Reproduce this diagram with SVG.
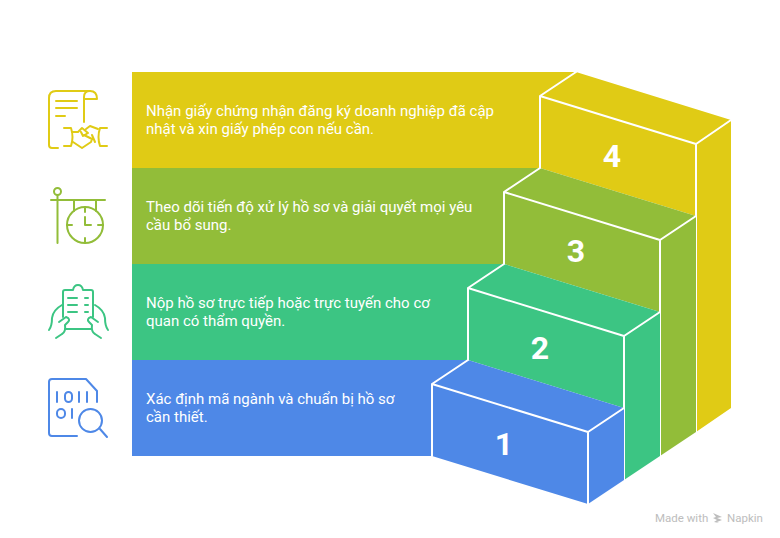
<svg xmlns="http://www.w3.org/2000/svg" width="780" height="538" viewBox="0 0 780 538">
<style>
.t{font-family:Roboto,"Noto Sans",sans-serif;font-size:15px;font-weight:400;fill:#fff}
.n{font-family:Roboto,"Noto Sans",sans-serif;font-size:32px;font-weight:700;fill:#fff;text-anchor:middle}
.e{stroke:#fff;stroke-width:2;stroke-linejoin:round;fill:none;stroke-linecap:round}
.i{fill:none;stroke-width:2;stroke-linecap:round;stroke-linejoin:round}
.y{fill:#E0CB15}.g{fill:#92BD39}.c{fill:#3CC583}.b{fill:#4E88E7}
.w{font-family:Roboto,"Noto Sans",sans-serif;font-size:11.5px;fill:#bdbdbd}
</style>
<rect width="780" height="538" fill="#fff"/>
<g id="step-4">
<path class="y" d="M132 72H576L731 120V408L696 432V216L540 168H132Z"/>
<path class="e" d="M576 72L540 96L696 144L731 120M540 96V168M696 144V432"/>
<text class="n" x="612" y="167">4</text>
<text class="t" x="146" y="116">Nhận giấy chứng nhận đăng ký doanh nghiệp đã cập</text>
<text class="t" x="146" y="134">nhật và xin giấy phép con nếu cần.</text>
</g>
<g id="step-3">
<path class="g" d="M132 168H540L696 216V432L660 456V312L504 264H132Z"/>
<path class="e" d="M540 168L504 192L660 240L696 216M504 192V264M660 240V456"/>
<text class="n" x="576" y="262">3</text>
<text class="t" x="146" y="212">Theo dõi tiến độ xử lý hồ sơ và giải quyết mọi yêu</text>
<text class="t" x="146" y="230">cầu bổ sung.</text>
</g>
<g id="step-2">
<path class="c" d="M132 264H504L660 312V456L624 480V408L468 360H132Z"/>
<path class="e" d="M504 264L468 288L624 336L660 312M468 288V360M624 336V480"/>
<text class="n" x="540" y="359">2</text>
<text class="t" x="146" y="308">Nộp hồ sơ trực tiếp hoặc trực tuyến cho cơ</text>
<text class="t" x="146" y="326">quan có thẩm quyền.</text>
</g>
<g id="step-1">
<path class="b" d="M132 360H468L624 408V480L588 504L432 456H132Z"/>
<path class="e" d="M468 360L432 384L588 432L624 408M432 384V456M588 432V504"/>
<text class="n" x="504" y="455">1</text>
<text class="t" x="146" y="404">Xác định mã ngành và chuẩn bị hồ sơ</text>
<text class="t" x="146" y="422">cần thiết.</text>
</g>
<g id="icon-4" class="i" stroke="#E0CB15">
<path d="M58 148H52Q49 148 49 145V98Q49 91 56 91H90"/>
<path d="M84 122V97Q84 91 90 91Q97 91 97 99H84"/>
<path d="M56 101H77M56 108H77M56 116H65"/>
<path d="M64 128H71Q74 137 71 146H64M107 128H100Q97 137 100 146H107"/>
<path d="M72 132H78L82 128L88 133L83 136L81 132M86 129L90 126L98 129M84 135L92 139L91 142L82 148L73 142M92 135L95 142"/>
</g>
<g id="icon-3" class="i" stroke="#92BD39">
<circle cx="57.5" cy="191.5" r="3.5"/>
<path d="M57.5 195V243M51 200H105M74 200V211M96 200V211"/>
<circle cx="85" cy="225" r="18"/>
<path d="M85 207V212M85 238V243M67 225H72M98 225H103M85 217V225H91"/>
</g>
<g id="icon-2" class="i" stroke="#3CC583">
<path d="M63 317V292Q63 290 65 290H73Q74 285 78 285Q82 285 83 290H91Q93 290 93 292V317M65 329H91"/>
<path d="M68 298H77M68 305H77M68 312H77M85 298H88M85 305H88M85 312H88"/>
<path d="M62 305Q53 310 52 318Q52 326 49 330M59 322L66 317Q71 319 68 322L65 325Q66 332 62 334L56 338"/>
<path d="M95 305Q104 310 105 318Q105 326 108 330M98 322L91 317Q86 319 89 322L92 325Q91 332 95 334L101 338"/>
</g>
<g id="icon-1" class="i" stroke="#4E88E7">
<path d="M77 436H52Q49 436 49 433V382Q49 379 52 379H86L97 391V402"/>
<path d="M57 392V402M79 392V402M87 392V402M72 409V418"/>
<rect x="65" y="392" width="7" height="10" rx="3.5"/>
<rect x="57" y="409" width="8" height="9" rx="4"/>
<circle cx="90.5" cy="420.5" r="11.5"/>
<path d="M100 429L107 437"/>
</g>
<g id="watermark">
<text class="w" x="655" y="522">Made with</text>
<path d="M713 513L722 517L717 518L722 520L717 522L719 523L714 522L717 520L713 518L716 517Z" fill="#bdbdbd"/>
<text class="w" x="727" y="522">Napkin</text>
</g>
</svg>
